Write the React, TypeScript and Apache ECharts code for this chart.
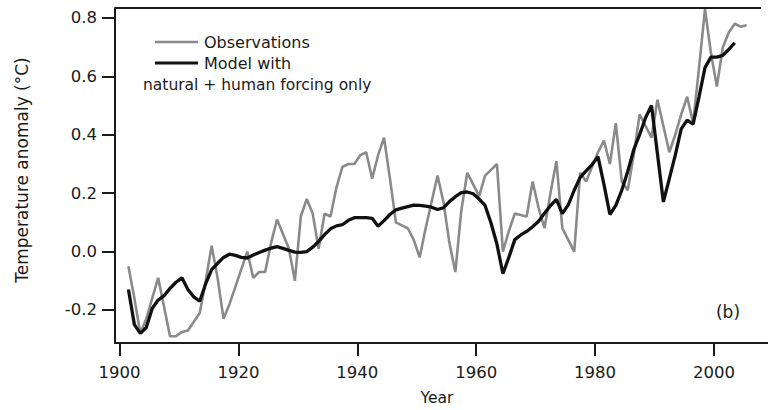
import React, { useEffect, useRef } from "react";
import * as echarts from "echarts";

// Annual values, plotted at mid-year
const obsStartYear = 1901;
const obsValues = [
  -0.05, -0.16, -0.28, -0.23, -0.16, -0.09, -0.19, -0.29, -0.29, -0.275,
  -0.27, -0.24, -0.21, -0.1, 0.02, -0.09, -0.23, -0.18, -0.12, -0.06,
  0.0, -0.09, -0.07, -0.07, 0.03, 0.11, 0.06, 0.01, -0.1, 0.12,
  0.18, 0.13, 0.01, 0.13, 0.12, 0.22, 0.29, 0.3, 0.3, 0.33,
  0.34, 0.25, 0.33, 0.39, 0.25, 0.1, 0.09, 0.08, 0.04, -0.02,
  0.08, 0.17, 0.26, 0.17, 0.03, -0.07, 0.14, 0.27, 0.23, 0.19,
  0.26, 0.28, 0.3, 0.0, 0.07, 0.13, 0.125, 0.12, 0.24, 0.15,
  0.08, 0.2, 0.31, 0.08, 0.04, 0.0, 0.27, 0.24, 0.29, 0.34,
  0.38, 0.3, 0.44, 0.24, 0.21, 0.33, 0.47, 0.43, 0.39, 0.52,
  0.43, 0.34, 0.4, 0.47, 0.53, 0.44, 0.63, 0.83, 0.68, 0.565,
  0.7, 0.75, 0.78, 0.77, 0.775,
];

const modelStartYear = 1901;
const modelValues = [
  -0.13, -0.25, -0.28, -0.26, -0.195, -0.166, -0.151, -0.126, -0.105, -0.09,
  -0.13, -0.155, -0.17, -0.11, -0.062, -0.04, -0.02, -0.009, -0.013, -0.02,
  -0.022, -0.012, -0.003, 0.005, 0.012, 0.017, 0.011, 0.004, -0.002, -0.003,
  0.0, 0.015, 0.035, 0.058, 0.078, 0.088, 0.092, 0.107, 0.116, 0.116,
  0.116, 0.114, 0.087, 0.106, 0.127, 0.143, 0.149, 0.154, 0.159, 0.158,
  0.156, 0.152, 0.144, 0.15, 0.171, 0.188, 0.202, 0.204, 0.198, 0.18,
  0.158, 0.098, 0.025, -0.076, -0.02, 0.041, 0.057, 0.069, 0.085, 0.104,
  0.131, 0.157, 0.179, 0.13, 0.16, 0.21, 0.254, 0.276, 0.298, 0.325,
  0.23, 0.127, 0.158, 0.21, 0.274, 0.348, 0.4, 0.458, 0.5, 0.335,
  0.17, 0.25, 0.33, 0.42, 0.45, 0.436, 0.53, 0.63, 0.666, 0.666,
  0.672, 0.692, 0.715,
];

const xTicks = [1900, 1920, 1940, 1960, 1980, 2000];
const yTicks = [-0.2, 0.0, 0.2, 0.4, 0.6, 0.8];

const FONT = "DejaVu Sans";
const TXT = "#1a1a1a";

export default function App() {
  const ref = useRef<HTMLDivElement>(null);
  useEffect(() => {
    if (!ref.current) return;
    const chart = echarts.init(ref.current, null, { renderer: "svg" });
    const obsData = obsValues.map((v, i) => [obsStartYear + i + 0.5, v]);
    const modelData = modelValues.map((v, i) => [modelStartYear + i + 0.5, v]);
    chart.setOption({
      animation: false,
      backgroundColor: "#fff",
      grid: { left: 115, right: 0, top: 8, bottom: 67, containLabel: false },
      xAxis: {
        type: "value",
        min: 1899.24,
        max: 2009.1,
        axisLine: { show: true, onZero: false, lineStyle: { color: TXT, width: 2 } },
        axisTick: { show: true, customValues: xTicks, length: 13, lineStyle: { color: TXT, width: 2 } },
        axisLabel: {
          customValues: xTicks,
          fontSize: 16.5,
          fontFamily: FONT,
          color: TXT,
          margin: 21,
          formatter: (v: number) => String(Math.round(v)),
        },
        splitLine: { show: false },
      },
      yAxis: {
        type: "value",
        min: -0.313,
        max: 0.834,
        axisLine: { show: true, onZero: false, lineStyle: { color: TXT, width: 2 } },
        axisTick: { show: true, customValues: yTicks, length: 13, lineStyle: { color: TXT, width: 2 } },
        axisLabel: {
          customValues: yTicks,
          fontSize: 16.5,
          fontFamily: FONT,
          color: TXT,
          margin: 18,
          formatter: (v: number) => v.toFixed(1),
        },
        splitLine: { show: false },
      },
      series: [
        {
          name: "Observations",
          type: "line",
          data: obsData,
          showSymbol: false,
          lineStyle: { color: "#8a8a8a", width: 2.6 },
          z: 2,
        },
        {
          name: "Model",
          type: "line",
          data: modelData,
          showSymbol: false,
          lineStyle: { color: "#111", width: 3.3 },
          z: 3,
        },
      ],
      graphic: [
        { type: "line", shape: { x1: 115, y1: 8, x2: 761, y2: 8 }, style: { stroke: TXT, lineWidth: 2 } },
        {
          type: "text",
          x: 22,
          y: 170,
          rotation: Math.PI / 2,
          style: { text: "Temperature anomaly (°C)", fontSize: 17, fontFamily: FONT, fill: TXT, textAlign: "center", textVerticalAlign: "middle" },
        },
        {
          type: "text",
          x: 437,
          y: 398,
          style: { text: "Year", fontSize: 15.5, fontFamily: FONT, fill: TXT, textAlign: "center", textVerticalAlign: "middle" },
        },
        { type: "line", shape: { x1: 155, y1: 42, x2: 198, y2: 42 }, style: { stroke: "#8a8a8a", lineWidth: 2.6 } },
        { type: "line", shape: { x1: 155, y1: 63, x2: 198, y2: 63 }, style: { stroke: "#111", lineWidth: 3.2 } },
        {
          type: "text",
          x: 204,
          y: 42,
          style: { text: "Observations", fontSize: 16, fontFamily: FONT, fill: TXT, textVerticalAlign: "middle" },
        },
        {
          type: "text",
          x: 204,
          y: 63,
          style: { text: "Model with", fontSize: 16, fontFamily: FONT, fill: TXT, textVerticalAlign: "middle" },
        },
        {
          type: "text",
          x: 143,
          y: 85,
          style: { text: "natural + human forcing only", fontSize: 15.5, fontFamily: FONT, fill: TXT, textVerticalAlign: "middle" },
        },
        {
          type: "text",
          x: 728,
          y: 312,
          style: { text: "(b)", fontSize: 17, fontFamily: FONT, fill: TXT, textAlign: "center", textVerticalAlign: "middle" },
        },
      ],
    });
    return () => chart.dispose();
  }, []);
  return <div ref={ref} style={{ position: "absolute", left: 0, top: 0, width: 768, height: 410 }} />;
}
